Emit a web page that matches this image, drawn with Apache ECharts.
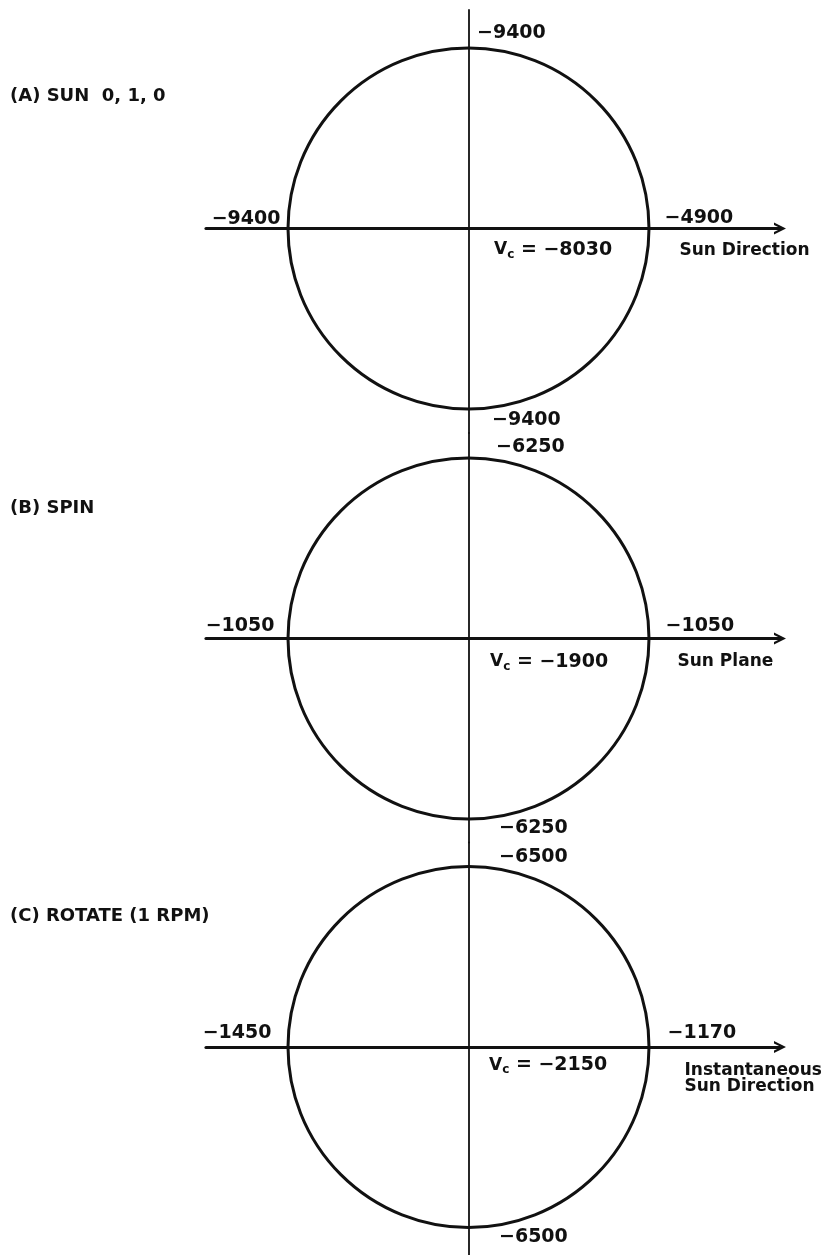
<!DOCTYPE html>
<html>
<head>
<meta charset="utf-8">
<script src="https://cdn.jsdelivr.net/npm/echarts@6/dist/echarts.min.js"></script>
<style>
  html, body { margin: 0; padding: 0; background: #fff; }
  #chart { width: 827px; height: 1255px; }
</style>
</head>
<body>
<div id="chart"></div>
<script>
// values
const panelTitles = ['(A) SUN  0, 1, 0', '(B) SPIN', '(C) ROTATE (1 RPM)'];
const topValues = [-9400, -6250, -6500];
const bottomValues = [-9400, -6250, -6500];
const leftValues = [-9400, -1050, -1450];
const rightValues = [-4900, -1050, -1170];
const centreValues = [-8030, -1900, -2150];
const axisNames = ['Sun Direction', 'Sun Plane', 'Instantaneous\nSun Direction'];

// layout (pixels)
const R = 180.5;            // circle radius in px = 1 unit
const CX = 468.5;
const AXIS_LEFT = 206, AXIS_RIGHT = 780;
const panels = [
  { top: 10,    bottom: 433,  cy: 228.5, titleTop: 87,
    topOff: [9, -14], botOff: [24, 12], leftOff: [-7, -9], rightOff: [16, -10], vcOff: [26, 22], nameOff: [31, 23] },
  { top: 433,   bottom: 842.5, cy: 638.5, titleTop: 499,
    topOff: [28, -10], botOff: [31, 10], leftOff: [-13, -12], rightOff: [17, -12], vcOff: [22, 24], nameOff: [29, 24] },
  { top: 842.5, bottom: 1255, cy: 1047, titleTop: 907,
    topOff: [31, -9], botOff: [31, 10], leftOff: [-16, -13], rightOff: [19, -13], vcOff: [21, 19], nameOff: [36, 32] }
];

const INK = '#111';
const FONT = '"DejaVu Sans", sans-serif';
const fmt = v => (v < 0 ? '\u2212' : '') + Math.abs(v);

const numStyle = { color: INK, fontFamily: FONT, fontWeight: 'bold', fontSize: 19 };

const grids = [], xAxes = [], yAxes = [], series = [], titles = [];

panels.forEach((p, i) => {
  grids.push({ left: AXIS_LEFT, width: AXIS_RIGHT - AXIS_LEFT, top: p.top, height: p.bottom - p.top,
               containLabel: false, outerBoundsMode: 'none' });
  xAxes.push({
    gridIndex: i, type: 'value',
    min: (AXIS_LEFT - CX) / R, max: (AXIS_RIGHT - CX) / R,
    axisLine: { show: true, onZero: true,
                symbol: ['none', 'path://M0,12 L6,0 L12,12 L9.6,12 L6,4.8 L2.4,12 Z'],
                symbolSize: [12, 12], lineStyle: { color: INK, width: 3.2 } },
    axisTick: { show: false }, axisLabel: { show: false }, splitLine: { show: false }
  });
  yAxes.push({
    gridIndex: i, type: 'value',
    min: -(p.bottom - p.cy) / R, max: (p.cy - p.top) / R,
    axisLine: { show: true, onZero: true, lineStyle: { color: INK, width: 1.8 } },
    axisTick: { show: false }, axisLabel: { show: false }, splitLine: { show: false }
  });

  // the circle, centre (0,0), radius 1
  series.push({
    type: 'custom', xAxisIndex: i, yAxisIndex: i,
    data: [[0, 0, 1]],
    renderItem: (params, api) => {
      const c = api.coord([api.value(0), api.value(1)]);
      const r = api.size([api.value(2), 0])[0];
      return { type: 'circle', shape: { cx: c[0], cy: c[1], r: r },
               style: { fill: 'transparent', stroke: INK, lineWidth: 3 } };
    }
  });

  const lbl = (off, align, text, extra) => Object.assign({
    show: true, position: off, align: align, verticalAlign: 'middle',
    formatter: text
  }, numStyle, extra || {});

  series.push({
    type: 'scatter', xAxisIndex: i, yAxisIndex: i,
    symbolSize: 1, itemStyle: { color: 'transparent', opacity: 1 }, silent: true,
    data: [
      { value: [0, 1],  label: lbl(p.topOff, 'left', fmt(topValues[i])) },
      { value: [0, -1], label: lbl(p.botOff, 'left', fmt(bottomValues[i])) },
      { value: [-1, 0], label: lbl(p.leftOff, 'right', fmt(leftValues[i])) },
      { value: [1, 0],  label: lbl(p.rightOff, 'left', fmt(rightValues[i])) },
      { value: [0, 0],  label: lbl(p.vcOff, 'left', '{v|V}{s|c}{t| = ' + fmt(centreValues[i]) + '}', {
          rich: {
            v: { color: INK, fontFamily: FONT, fontWeight: 'bold', fontSize: 17 },
            s: { color: INK, fontFamily: FONT, fontWeight: 'bold', fontSize: 12, padding: [9, 0, 0, 0] },
            t: { color: INK, fontFamily: FONT, fontWeight: 'bold', fontSize: 19 }
          } }) },
      { value: [1, 0],  label: lbl(p.nameOff, 'left', axisNames[i], { fontSize: 17, lineHeight: 16 }) }
    ]
  });

  titles.push({
    text: panelTitles[i], left: 10, top: p.titleTop, padding: 0,
    textStyle: { color: INK, fontFamily: FONT, fontWeight: 'bold', fontSize: 18 }
  });
});

const chart = echarts.init(document.getElementById('chart'), null, { renderer: 'canvas' });
chart.setOption({
  backgroundColor: '#fff',
  animation: false,
  title: titles,
  grid: grids,
  xAxis: xAxes,
  yAxis: yAxes,
  series: series
});
window.onresize = chart.resize;
</script>
</body>
</html>
